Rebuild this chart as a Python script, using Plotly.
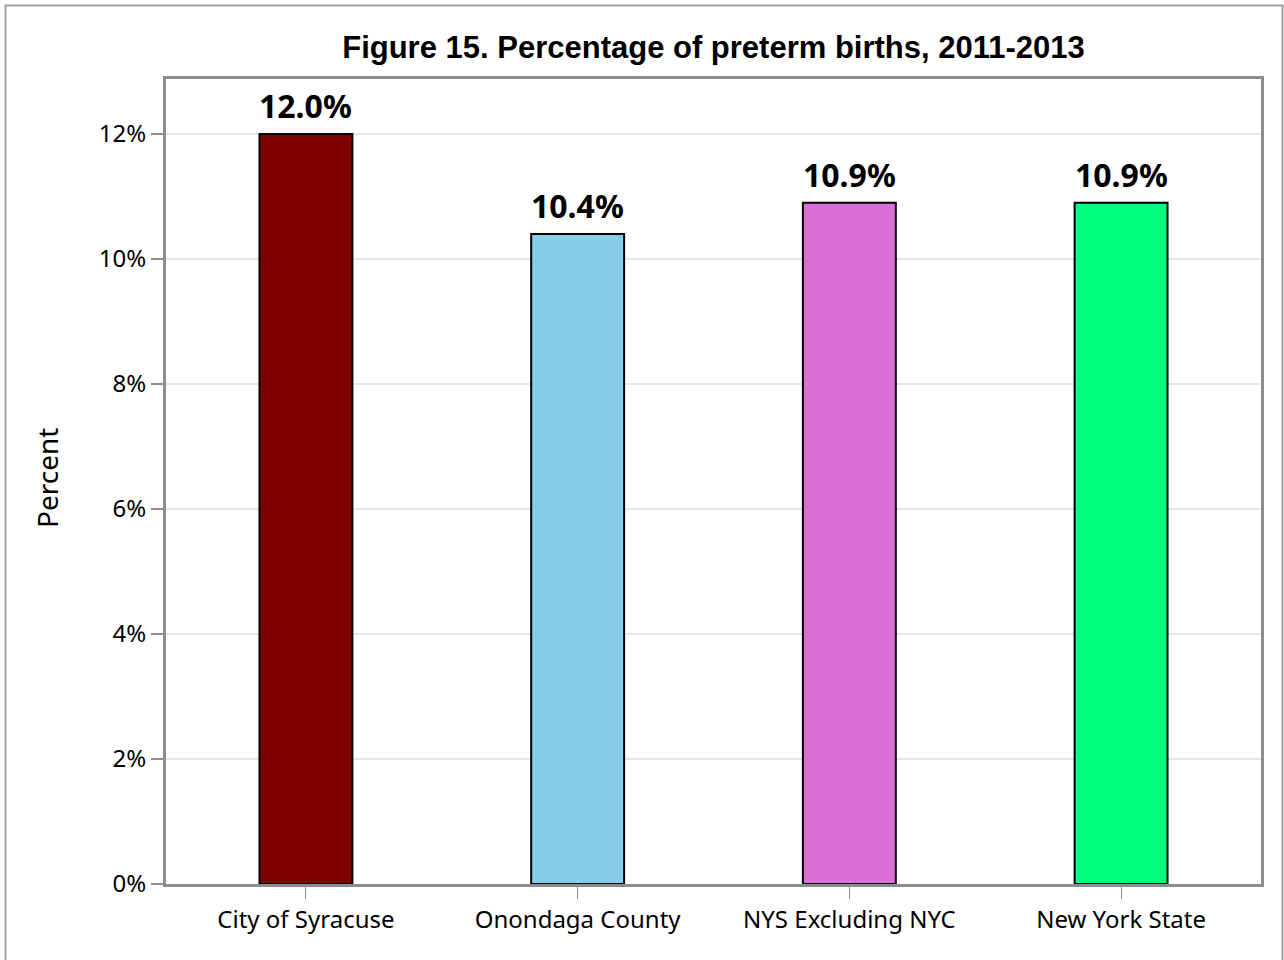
import plotly.graph_objects as go

categories = ["City of Syracuse", "Onondaga County", "NYS Excluding NYC", "New York State"]
values = [12.0, 10.4, 10.9, 10.9]
colors = ["#800000", "#87CEEB", "#DA70D6", "#00FF7F"]
y_ticks = [0, 2, 4, 6, 8, 10, 12]
title_text = "Figure 15. Percentage of preterm births, 2011-2013"
y_title = "Percent"

W, H = 1284, 960
L, R, T, B = 166, 23, 79, 76
PW, PH = W - L - R, H - T - B
AX = "#8a8d91"

fig = go.Figure(go.Bar(
    x=categories,
    y=values,
    width=0.342,
    marker=dict(color=colors, line=dict(color="black", width=2)),
    hoverinfo="x+y",
))

# value labels above bars
for c, v in zip(categories, values):
    fig.add_annotation(
        x=c, y=v, xref="x", yref="y",
        text=f"<b>{v:.1f}%</b>", showarrow=False,
        yanchor="bottom", xanchor="center", yshift=5,
        font=dict(family="Noto Sans", size=32, color="black"),
    )

# y axis title
fig.add_annotation(
    x=(47 - L) / PW, y=(H - B - 478) / PH, xref="paper", yref="paper",
    text=y_title, textangle=-90, showarrow=False,
    xanchor="center", yanchor="middle",
    font=dict(family="Noto Sans", size=28, color="black"),
)

fig.update_layout(
    width=W, height=H,
    margin=dict(l=L, r=R, t=T, b=B, pad=0),
    paper_bgcolor="white",
    plot_bgcolor="white",
    showlegend=False,
    font=dict(family="Noto Sans", size=24, color="black"),
    title=dict(
        text="<b>" + title_text + "</b>",
        font=dict(family="Liberation Sans", size=31, color="black"),
        x=0.5, xanchor="center", xref="paper",
        y=1 - 47 / H, yanchor="middle", yref="container",
    ),
    xaxis=dict(
        type="category",
        range=[-0.515, 3.515],
        showline=True, linecolor=AX, linewidth=3, mirror=True,
        ticks="outside", ticklen=12, tickwidth=1, tickcolor=AX,
        showgrid=False,
        tickfont=dict(family="Noto Sans", size=24, color="black"),
    ),
    yaxis=dict(
        range=[0, 12.88],
        tickvals=y_ticks,
        ticktext=[f"{v}%" for v in y_ticks],
        showline=True, linecolor=AX, linewidth=3, mirror=True,
        ticks="outside", ticklen=12, tickwidth=2, tickcolor=AX,
        showgrid=True, gridcolor="#e6e6e6", gridwidth=2,
        zeroline=False,
        tickfont=dict(family="Noto Sans", size=24, color="black"),
    ),
)

# outer border
fig.add_shape(
    type="rect", xref="paper", yref="paper",
    x0=(5.5 - L) / PW, x1=(1282.5 - L) / PW,
    y0=(H - B - 980) / PH, y1=(H - B - 5.5) / PH,
    line=dict(color="#a0a0a0", width=2), fillcolor="rgba(0,0,0,0)", layer="below",
)

fig.write_html(
    "out.html",
    config={"displayModeBar": False},
    post_script="document.body.style.margin='0';",
)
